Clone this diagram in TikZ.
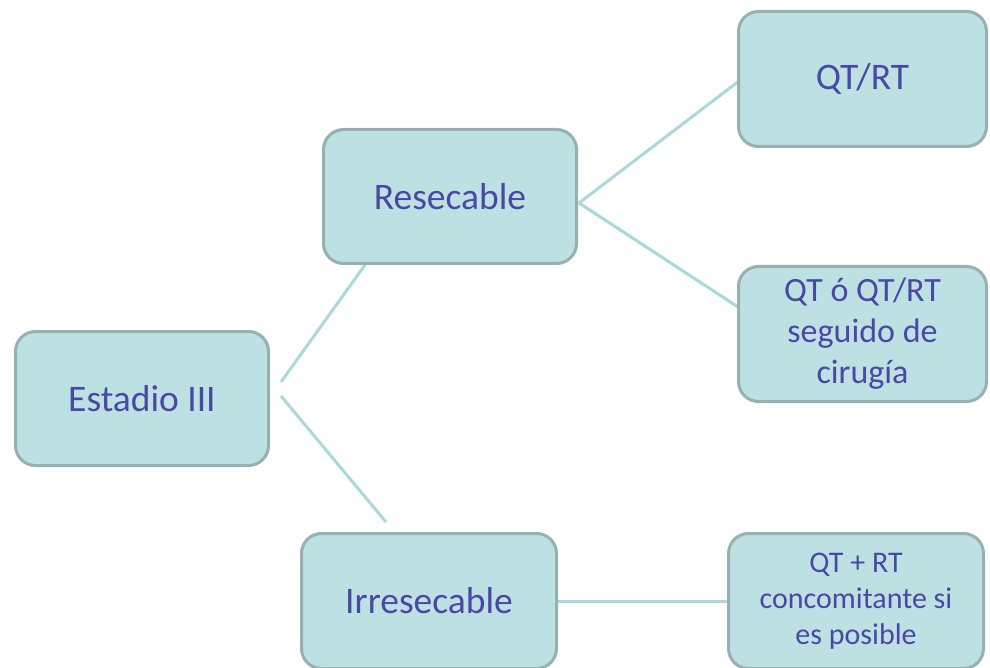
\documentclass[tikz,border=0pt]{standalone}
\usepackage{fontspec}
\setmainfont{Carlito}
\definecolor{boxfill}{HTML}{BDE1E3}
\definecolor{boxline}{HTML}{97B0B2}
\definecolor{txt}{HTML}{4848A6}
\definecolor{connc}{HTML}{A9D9DB}
\tikzset{
  box/.style={draw=boxline, line width=3pt, fill=boxfill, rounded corners=20pt,
    text=txt, align=center, inner sep=0pt, minimum width=#1},
  box/.default=253pt,
  conn/.style={draw=connc, line width=3pt},
  bigtxt/.style={font=\fontsize{37.5}{45}\selectfont},
}
\begin{document}
\begin{tikzpicture}[x=1pt,y=-1pt]
\useasboundingbox (0,0) rectangle (990,668);
\clip (0,0) rectangle (990,668);
\fill[white] (0,0) rectangle (990,668);
% connectors
\coordinate (e1) at (281,382);
\coordinate (e2) at (281,396);
\coordinate (r1) at (579,203);
\coordinate (i1) at (386,522);
\coordinate (a1) at (365,265);
\coordinate (q1) at (739,81);
\coordinate (q2) at (738,307);
\draw[conn] (e1) -- (a1);
\draw[conn] (e2) -- (i1);
\draw[conn] (r1) -- (q1);
\draw[conn] (r1) -- (q2);
% boxes
\node[box, bigtxt, minimum height=134pt] (est) at (142,398.5) {Estadio III};
\node[box, bigtxt, minimum height=134pt] (res) at (450,196.5) {Resecable};
\node[box=248pt, bigtxt, minimum height=135pt] (qtrt) at (862.5,79) {QT/RT};
\node[box=248pt, minimum height=135pt, font=\fontsize{34}{41}\selectfont] (qto) at (862.5,334) {QT ó QT/RT\\seguido de\\cirugía};
\node[box=255pt, bigtxt, minimum height=135pt] (irr) at (429,601) {Irresecable};
\node[box=255pt, minimum height=135pt, font=\fontsize{30}{36}\selectfont] (qtrc) at (856,601) {QT + RT\\concomitante si\\es posible};
\draw[conn] (irr.east) -- (qtrc.west);
\end{tikzpicture}
\end{document}
